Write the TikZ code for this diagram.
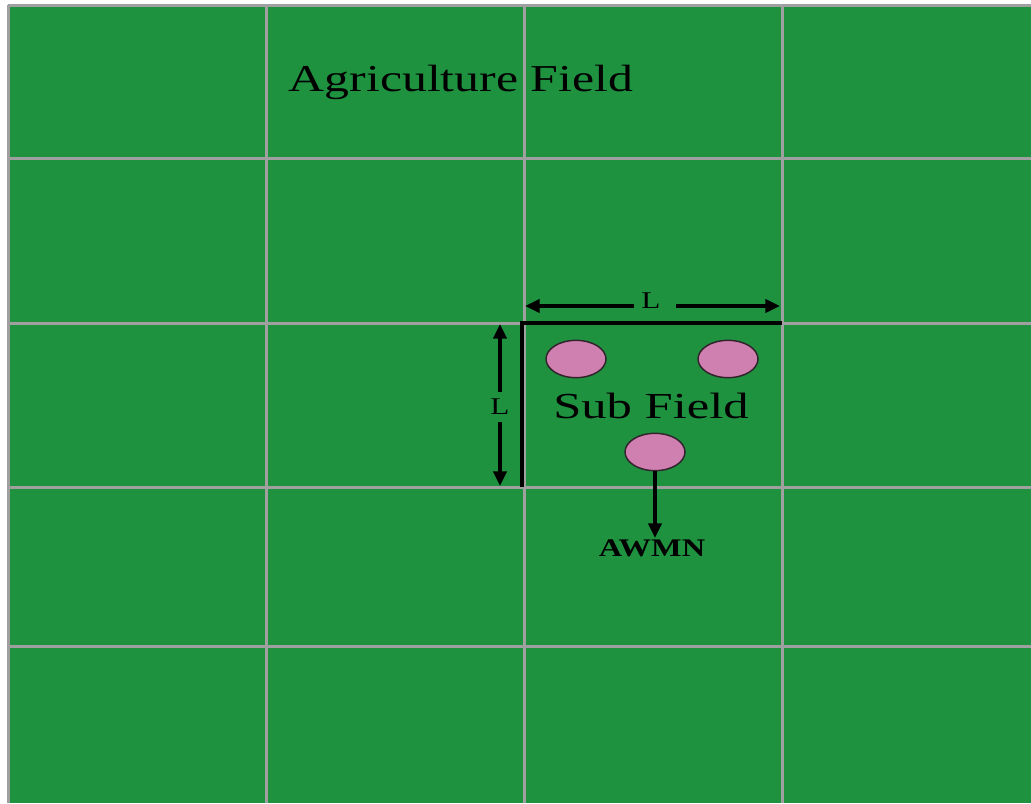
\documentclass[tikz,border=0pt]{standalone}
\usepackage{fontspec}
\usepackage{graphicx}
\setmainfont{Liberation Serif}
\usetikzlibrary{arrows.meta,shapes.geometric}
\definecolor{fieldgreen}{RGB}{31,146,64}
\definecolor{gridgray}{RGB}{160,160,160}
\definecolor{nodepink}{RGB}{208,128,176}
\definecolor{nodeedge}{RGB}{50,35,45}
\tikzset{
  gridline/.style={draw=gridgray,line width=2.25pt},
  borderline/.style={draw=black,line width=2.4pt},
  sensor/.style={ellipse,draw=nodeedge,fill=nodepink,line width=1.1pt,minimum width=45pt,minimum height=28pt,inner sep=0pt},
  dimarrow/.style={draw=black,line width=2.4pt,-{Triangle[length=11pt,width=10pt]}},
  lbl/.style={inner sep=0pt,text=black}
}
\begin{document}
\begin{tikzpicture}[x=0.75pt,y=-0.75pt]
\useasboundingbox (0,0) rectangle (1031,803);
\fill[white] (0,0) rectangle (1031,803);
\fill[fieldgreen] (8,5) rectangle (1031,803);
% grid
\foreach \x in {8,266,524,782} \draw[gridline] (\x,5) -- (\x,803);
\foreach \y in {5,158,323,487,646} \draw[gridline] (8,\y) -- (1031,\y);
% title
\node[lbl] (title) at (461,82) {\scalebox{1.31}[1]{\fontsize{28.5}{32}\selectfont Agriculture Field}};
% sub field border
\coordinate (c1) at (522,487);
\coordinate (c2) at (522,323);
\coordinate (c3) at (782,323);
\draw[borderline] (c1) -- (c2) -- (c3);
% dimension arrows
\node[lbl] (lh) at (651,301) {\scalebox{1.3}[1]{\fontsize{18}{20}\selectfont L}};
\coordinate (lhl) at (525,306);
\coordinate (lhr) at (780,306);
\draw[dimarrow] (634,306) -- (lhl);
\draw[dimarrow] (676,306) -- (lhr);
\node[lbl] (lv) at (500,407) {\scalebox{1.3}[1]{\fontsize{18}{20}\selectfont L}};
\coordinate (lvt) at (500,324);
\coordinate (lvb) at (500,486);
\draw[dimarrow] (500,392) -- (lvt);
\draw[dimarrow] (500,422) -- (lvb);
% sensors
\node[sensor] (s1) at (576,359) {};
\node[sensor] (s2) at (728,359) {};
\node[sensor] (s3) at (655,452) {};
\node[lbl] (sub) at (651,406) {\scalebox{1.38}[1]{\fontsize{27.5}{30}\selectfont Sub Field}};
\node[lbl,anchor=north] (awmn) at (652,540) {\scalebox{1.28}[1]{\fontsize{19}{21}\selectfont\bfseries AWMN}};
\draw[dimarrow] (s3.south) -- (655,538);
\end{tikzpicture}
\end{document}
